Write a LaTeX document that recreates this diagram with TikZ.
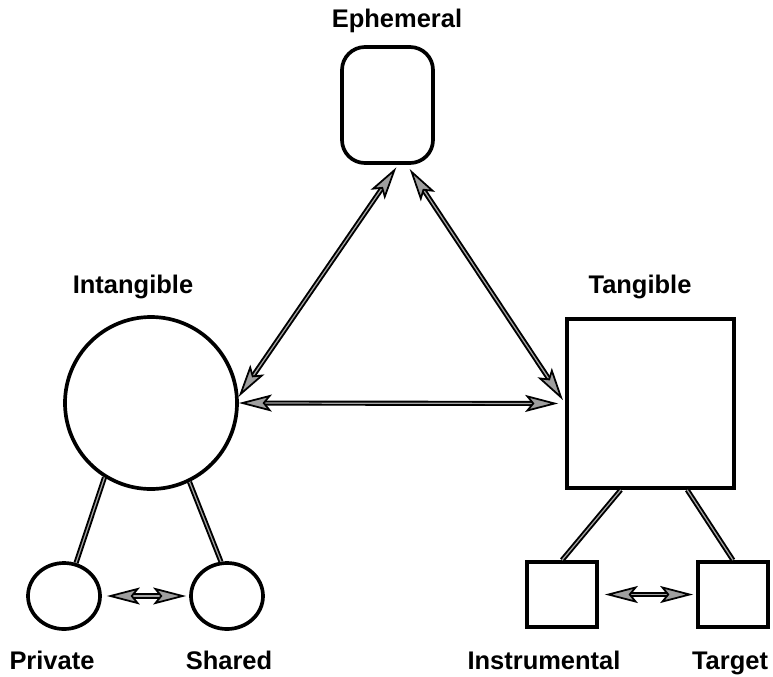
\documentclass[tikz,border=0pt]{standalone}
\usepackage{fontspec}
\setmainfont{Liberation Sans}
\usetikzlibrary{arrows.meta,shapes.geometric}

\begin{document}
\begin{tikzpicture}[x=0.2mm, y=-0.2mm,
    >={Stealth[length=6.6mm, width=3.4mm, inset=1.4mm, fill=gray!75, line width=1pt]},
    every node/.style={font=\fontsize{14.5}{17}\selectfont\bfseries},
    box/.style={draw, line width=2.1pt, inner sep=0pt},
    link/.style={line width=1.1pt, double=gray!70, double distance=0.7pt}]
    \useasboundingbox (0,0) rectangle (773,676);
    % three main forms
    \node[box, rounded corners=4.6mm, minimum width=18.2mm, minimum height=23.2mm] (ephem) at (387.5,105) {};
    \node[box, circle, minimum size=34.4mm] (intang) at (151,403) {};
    \node[box, minimum width=33.4mm, minimum height=33.8mm] (tang) at (650.5,403.5) {};
    % sub-forms
    \node[box, ellipse, minimum width=14.4mm, minimum height=13.2mm] (priv)   at (64,596)  {};
    \node[box, ellipse, minimum width=14.4mm, minimum height=13.2mm] (shared) at (227,596) {};
    \node[box, minimum width=14mm, minimum height=13mm] (instr) at (562,594.5) {};
    \node[box, minimum width=14mm, minimum height=13mm] (targ)  at (733,594.5) {};
    % labels
    \node[anchor=base] (ephemlbl)  at (397,27)  {Ephemeral};
    \node[anchor=base] (intanglbl) at (133,293) {Intangible};
    \node[anchor=base] (tanglbl)   at (640,293) {Tangible};
    \node[anchor=base] (privlbl)   at (52,669)  {Private};
    \node[anchor=base] (sharedlbl) at (229,669) {Shared};
    \node[anchor=base] (instrlbl)  at (544,669) {Instrumental};
    \node[anchor=base] (targlbl)   at (730,669) {Target};
    % arrows of the triangle
    \draw[link, <->, shorten <=0.6mm] (ephem.-80) -- (intang.4);
    \draw[link, <->, shorten <=1mm, shorten >=0.8mm] (ephem.-72) -- (tang.west);
    \draw[link, <->, shorten >=1.4mm] (intang.east) -- (tang.west);
    % links down to the sub-forms
    \draw[link] (intang.-122) -- (priv.70);
    \draw[link] (intang.-64) -- (shared.100);
    \draw[link] (tang.-109) -- (instr.north);
    \draw[link] (tang.-67) -- (targ.north);
    \draw[link, <->, shorten <=1mm, shorten >=0.6mm] (priv.east) -- (shared.west);
    \draw[link, <->, shorten <=1.2mm, shorten >=0.6mm] (instr.east) -- (targ.west);
\end{tikzpicture}
\end{document}
